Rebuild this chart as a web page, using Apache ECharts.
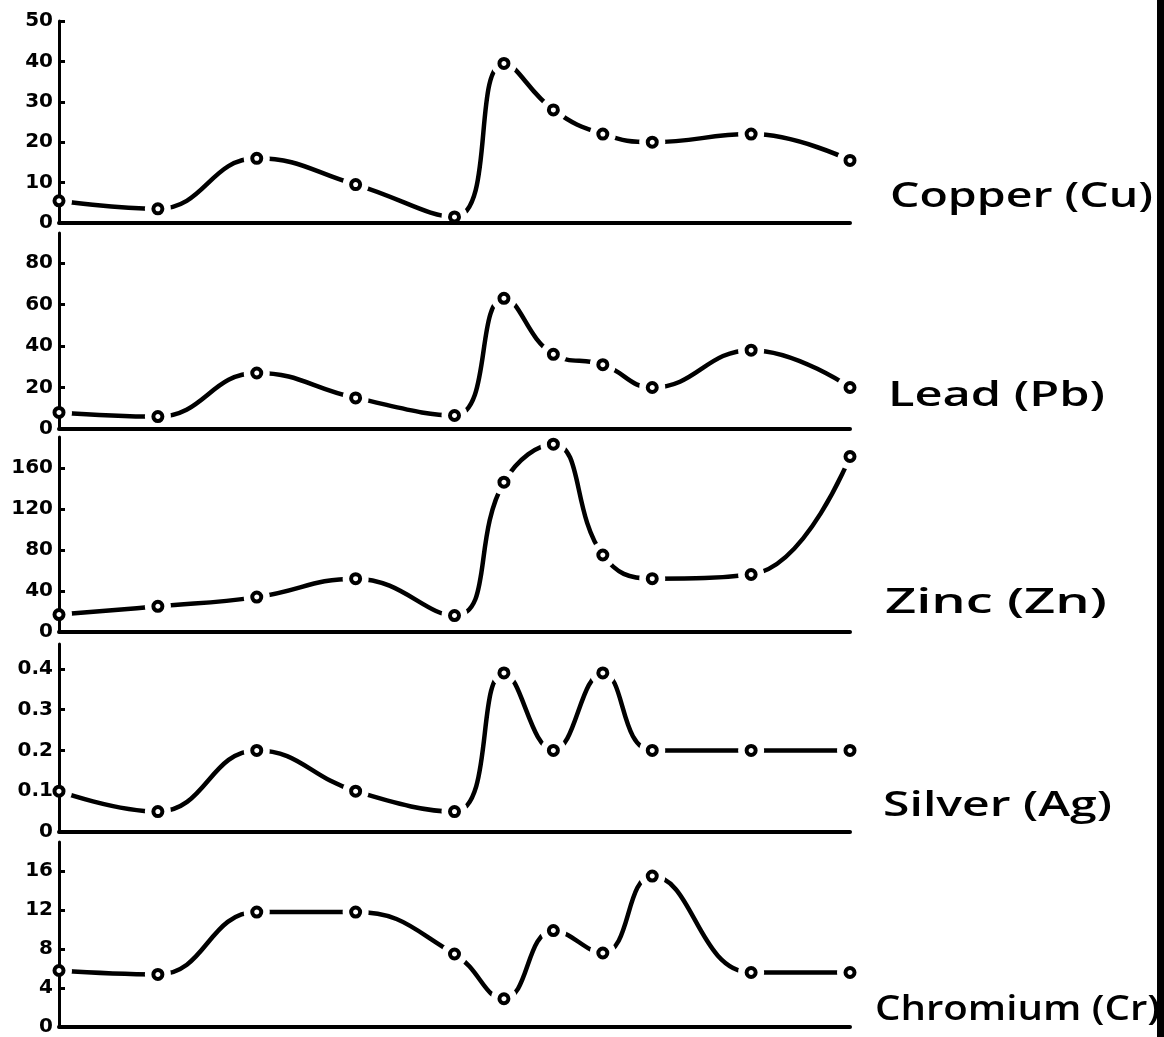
<!DOCTYPE html>
<html><head><meta charset="utf-8">
<script src="https://cdn.jsdelivr.net/npm/echarts@6/dist/echarts.min.js"></script>
<style>html,body{margin:0;padding:0;background:#fff}#c{width:1164px;height:1037px}</style>
</head><body><div id="c"></div>
<script>
// sample positions along the shared horizontal axis (relative units)
const xPos = [0, 2, 4, 6, 8, 9, 10, 11, 12, 14, 16];
const names = ['Copper (Cu)', 'Lead (Pb)', 'Zinc (Zn)', 'Silver (Ag)', 'Chromium (Cr)'];
const copper = [5.5, 3.5, 16, 9.5, 1.5, 39.5, 28, 22, 20, 22, 15.5];
const lead = [8, 6, 27, 15, 6.5, 63, 36, 31, 20, 38, 20];
const zinc = [17, 25, 34, 52, 16, 146, 183, 75, 52, 56, 171];
const silver = [0.1, 0.05, 0.2, 0.1, 0.05, 0.39, 0.2, 0.39, 0.2, 0.2, 0.2];
const chromium = [5.8, 5.4, 11.8, 11.8, 7.5, 2.9, 9.9, 7.6, 15.5, 5.6, 5.6];
const ticksCu = [0, 10, 20, 30, 40, 50];
const ticksPb = [0, 20, 40, 60, 80];
const ticksZn = [0, 40, 80, 120, 160];
const ticksAg = [0, 0.1, 0.2, 0.3, 0.4];
const ticksCr = [0, 4, 8, 12, 16];

const seriesData = [copper, lead, zinc, silver, chromium];
const tickSets = [ticksCu, ticksPb, ticksZn, ticksAg, ticksCr];
const layout = [
  {top: 21, height: 202, max: 50},
  {top: 233, height: 196, max: 94.5},
  {top: 437, height: 195, max: 190},
  {top: 644, height: 188, max: 0.461},
  {top: 842, height: 190, max: 19}
];
const labelPos = [
  {x: 890, y: 197, w: 263},
  {x: 888, y: 396, w: 217},
  {x: 885, y: 603, w: 222},
  {x: 883, y: 806, w: 229},
  {x: 875, y: 1010, w: 285}
];

const chart = echarts.init(document.getElementById('c'), null, {renderer: 'canvas'});
const grids = [], xAxes = [], yAxes = [], series = [], graphics = [];
const ctx = document.createElement('canvas').getContext('2d');
const labelFont = '600 34px "Open Sans"';
ctx.font = labelFont;

layout.forEach((L, i) => {
  grids.push({left: 59, width: 791, top: L.top, height: L.height});
  xAxes.push({
    type: 'value', gridIndex: i, min: 0, max: 16, z: 4,
    axisLine: {show: true, lineStyle: {color: '#000', width: 4}},
    axisTick: {show: false}, axisLabel: {show: false}, splitLine: {show: false}
  });
  yAxes.push({
    type: 'value', gridIndex: i, min: 0, max: L.max, z: 4,
    axisLine: {show: true, lineStyle: {color: '#000', width: 3}},
    axisTick: {show: true, inside: true, length: 6, lineStyle: {color: '#000', width: 3}, customValues: tickSets[i]},
    axisLabel: {
      show: true, customValues: tickSets[i], color: '#000', margin: 6,
      fontFamily: 'DejaVu Sans', fontWeight: 'bold', fontSize: 20,
      formatter: v => (i === 3 && v !== 0) ? v.toFixed(1) : String(v)
    },
    splitLine: {show: false}
  });
  const pts = xPos.map((x, k) => [x, seriesData[i][k]]);
  series.push({
    type: 'line', xAxisIndex: i, yAxisIndex: i, data: pts, smooth: 0.45,
    showSymbol: false, z: 2, silent: true,
    lineStyle: {color: '#000', width: 4.5}
  });
  // white halo (gap in the curve around each sample circle)
  series.push({
    type: 'scatter', xAxisIndex: i, yAxisIndex: i, data: pts, z: 3, silent: true,
    symbol: 'circle', symbolSize: 26,
    itemStyle: {color: '#ffffff', borderWidth: 0, opacity: 1}
  });
  series.push({
    type: 'scatter', xAxisIndex: i, yAxisIndex: i, data: pts, z: 6, silent: true,
    symbol: 'circle', symbolSize: 9,
    itemStyle: {color: '#fff', borderColor: '#000', borderWidth: 4, opacity: 1}
  });
  const P = labelPos[i];
  const w = ctx.measureText(names[i]).width;
  graphics.push({
    type: 'text', x: P.x, y: P.y, scaleX: P.w / w, z: 10,
    style: {text: names[i], font: labelFont, fill: '#000', x: 0, y: 0, verticalAlign: 'middle', align: 'left'}
  });
});
graphics.push({type: 'rect', shape: {x: 1157, y: 0, width: 7, height: 1037}, style: {fill: '#000'}, z: 10});

chart.setOption({
  backgroundColor: '#fff',
  animation: false,
  grid: grids, xAxis: xAxes, yAxis: yAxes, series: series, graphic: graphics
});
</script></body></html>
